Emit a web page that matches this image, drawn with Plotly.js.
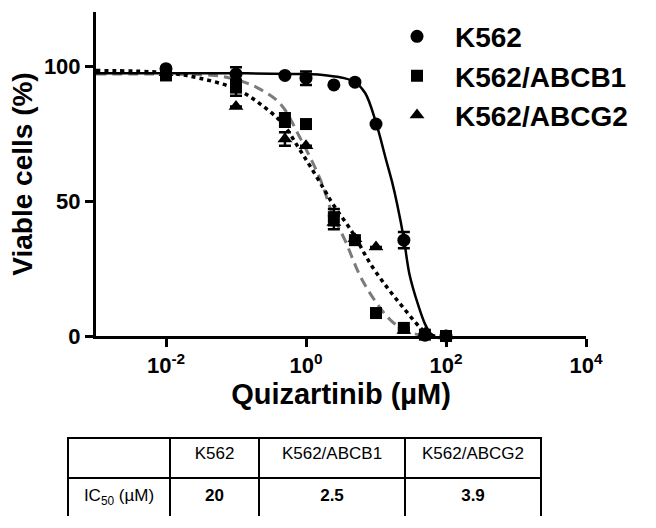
<!DOCTYPE html>
<html>
<head>
<meta charset="utf-8">
<script src="https://cdn.plot.ly/plotly-3.0.1.min.js"></script>
<style>
  body { margin: 0; background: #ffffff; }
  #chart { width: 656px; height: 528px; }
</style>
</head>
<body>
<div id="chart"></div>
<script>
var font_family = "Liberation Sans, Arial, sans-serif";
var gray = "#7b7b7b";

// measured points (concentration in uM, viable cells %)
var conc = [0.01, 0.1, 0.5, 1, 2.5, 5, 10, 25, 50, 100];
var k562 = [99, 97, 96.5, 95.5, 93, 94, 78.5, 35.5, 0.3, 0];
var k562_err = [0, 2.5, 0, 2.5, 0, 0, 0, 3, 0, 0];
var abcb1 = [96.5, 92, 80, 78.5, 44, 35.5, 8.5, 3, 0.5, 0];
var abcb1_err = [0, 3, 2.5, 0, 3, 0, 0, 0, 0, 0];
var abcg2 = [97.5, 85, 73, 70.5, 42, 36, 33, 2, 1, 0];
var abcg2_err = [0, 0, 2.5, 0, 2.5, 0, 0, 0, 0, 0];

// fitted curves
var fit_k562_x = [0.001, 0.01, 0.1, 1, 2, 3.5, 5, 7, 10, 14, 17, 20, 25, 30, 40, 50, 60, 70];
var fit_k562_y = [97.3, 97.3, 97.3, 97, 96.5, 95.5, 94, 90, 79, 65, 57, 49, 36, 23, 11.5, 4.5, 1, 0];
var fit_abcb1_x = [0.001, 0.01, 0.05, 0.1, 0.2, 0.43, 0.8, 1.6, 2.4, 3.6, 6, 10, 16, 26, 50];
var fit_abcb1_y = [97, 97, 96.5, 95, 92, 86, 74, 58, 45, 35.5, 22, 12.5, 6, 2, 0];
var fit_abcg2_x = [0.001, 0.01, 0.03, 0.1, 0.22, 0.47, 0.77, 1.14, 1.75, 2.4, 4.7, 8.2, 14.4, 24, 42, 58];
var fit_abcg2_y = [98.3, 97.5, 95.5, 91.5, 86, 78.5, 70, 63, 55, 49, 38, 27, 18, 10.8, 3.3, 0];

// table
var cell_lines = ["K562", "K562/ABCB1", "K562/ABCG2"];
var ic50 = ["20", "2.5", "3.9"];

var xtick_vals = [0.01, 1, 100, 10000];
var xtick_text = ["10<sup>-2</sup>", "10<sup>0</sup>", "10<sup>2</sup>", "10<sup>4</sup>"];
var ytick_vals = [0, 50, 100];

function points(name, y, err, symbol, size) {
    return {
        x: conc, y: y, name: name, type: "scatter", mode: "markers",
        marker: {symbol: symbol, size: size, color: "black"},
        error_y: {type: "data", array: err, visible: true, color: "black", thickness: 2.5, width: 6},
        cliponaxis: false
    };
}

var data = [
    {x: fit_abcb1_x, y: fit_abcb1_y, type: "scatter", mode: "lines", showlegend: false,
     line: {color: gray, width: 3, dash: "10px,6px", shape: "spline"}},
    {x: fit_abcg2_x, y: fit_abcg2_y, type: "scatter", mode: "lines", showlegend: false,
     line: {color: "black", width: 3.5, dash: "4px,4px", shape: "spline"}},
    {x: fit_k562_x, y: fit_k562_y, type: "scatter", mode: "lines", showlegend: false,
     line: {color: "black", width: 2.5, shape: "spline"}},
    points("K562", k562, k562_err, "circle", 13),
    points("K562/ABCB1", abcb1, abcb1_err, "square", 12),
    points("K562/ABCG2", abcg2, abcg2_err, "triangle-up", 13),
    {
        type: "table",
        domain: {x: [68 / 656, 541 / 656], y: [11 / 528, 90 / 528]},
        columnwidth: [102, 89, 146, 136],
        header: {
            values: [" "].concat(cell_lines),
            height: 40, align: "center",
            line: {color: "black", width: 2}, fill: {color: "white"},
            font: {family: font_family, size: 17, color: "black"}
        },
        cells: {
            values: [["IC<sub>50</sub> (µM)"]].concat(ic50.map(function (v) { return ["<b>" + v + "</b>"]; })),
            height: 39, align: "center",
            line: {color: "black", width: 2}, fill: {color: "white"},
            font: {family: font_family, size: 17, color: "black"}
        }
    }
];

var axis_common = {
    showline: true, linewidth: 3, linecolor: "black",
    ticks: "outside", ticklen: 8, tickwidth: 3, tickcolor: "black",
    showgrid: false, zeroline: false,
    tickfont: {family: font_family, size: 22, color: "black", weight: "bold"}
};

var layout = {
    width: 656, height: 528,
    margin: {l: 0, r: 0, t: 0, b: 0},
    paper_bgcolor: "white", plot_bgcolor: "white",
    font: {family: font_family, color: "black"},
    xaxis: Object.assign({}, axis_common, {
        type: "log", domain: [96 / 656, 586 / 656], range: [-3, 4],
        tickvals: xtick_vals, ticktext: xtick_text,
        title: {text: "Quizartinib (µM)", standoff: 7,
                font: {family: font_family, size: 29, color: "black", weight: "bold"}}
    }),
    yaxis: Object.assign({}, axis_common, {
        domain: [(528 - 336) / 528, (528 - 12) / 528], range: [0, 120],
        tickvals: ytick_vals,
        title: {text: "Viable cells (%)", standoff: 4,
                font: {family: font_family, size: 28, color: "black", weight: "bold"}}
    }),
    legend: {
        x: 379 / 656, y: 0.978, xanchor: "left", yanchor: "top",
        itemwidth: 66, bgcolor: "rgba(0,0,0,0)",
        font: {family: font_family, size: 28, color: "black", weight: "bold"}
    },
    showlegend: true
};

Plotly.newPlot("chart", data, layout, {displayModeBar: false, staticPlot: true});
</script>
</body>
</html>
